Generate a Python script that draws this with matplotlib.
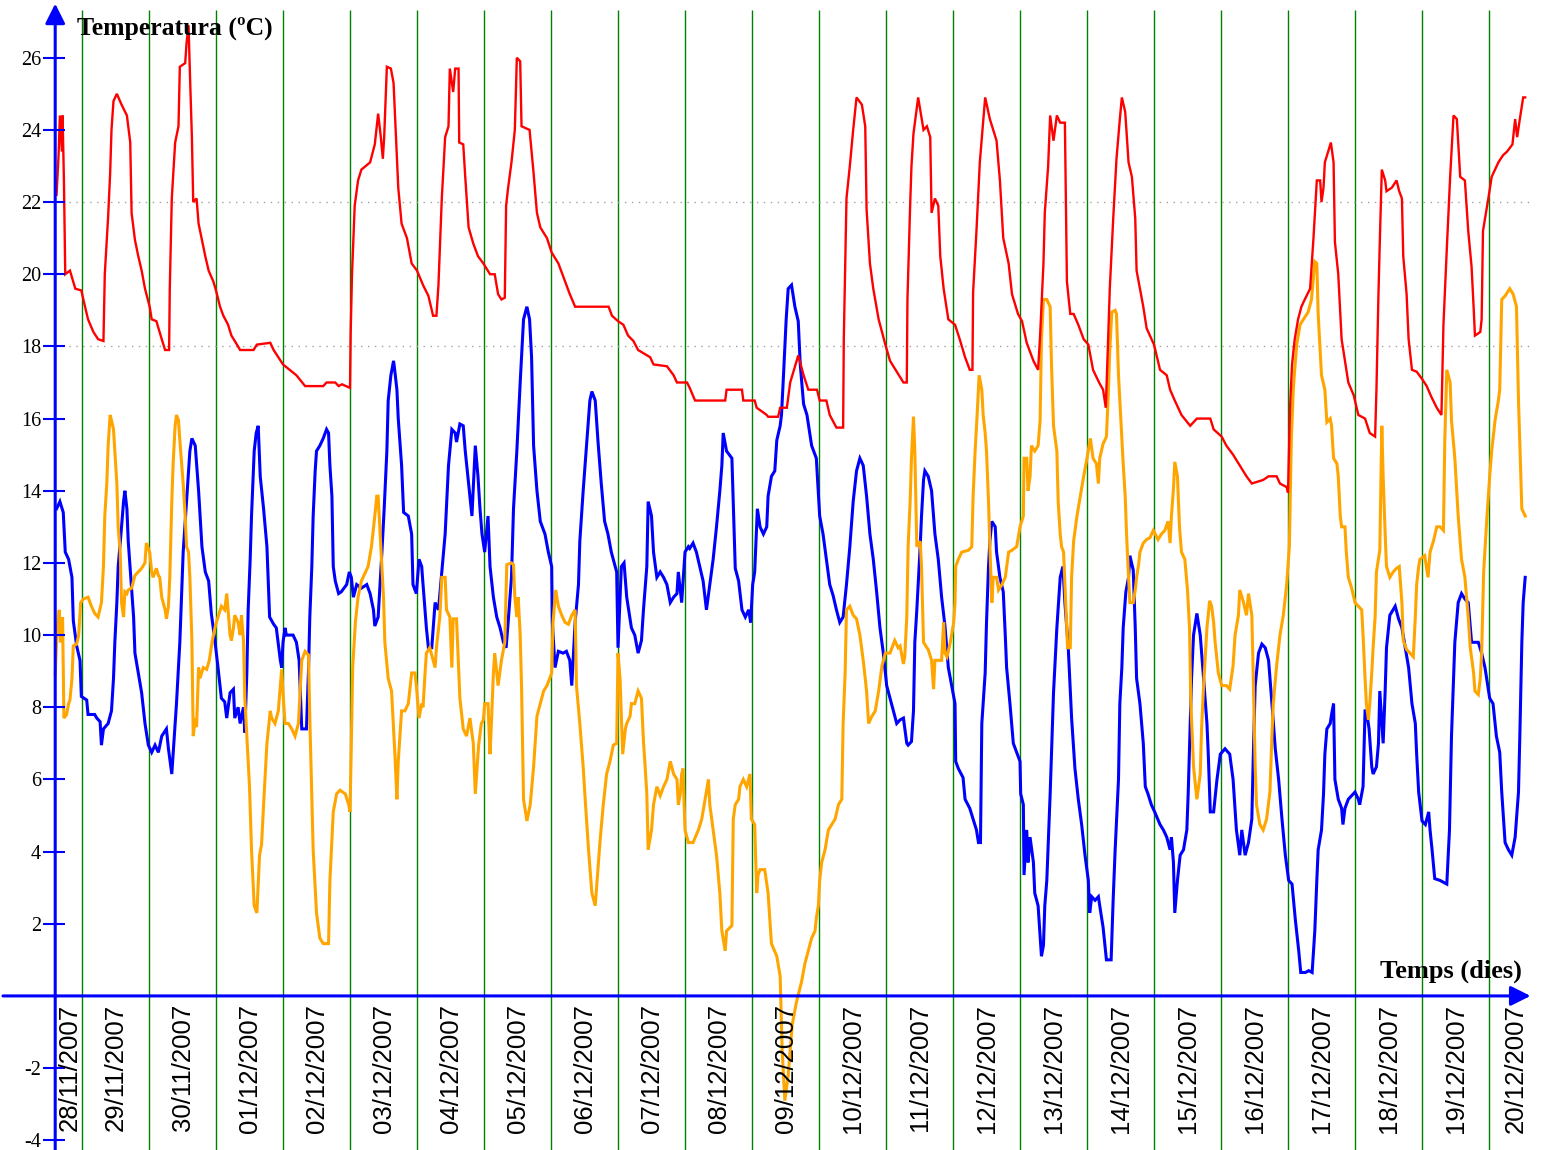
import matplotlib
matplotlib.use("Agg")
import matplotlib.pyplot as plt
import numpy as np

# time in days since 28/11/2007 00:00, temperature in ºC
red = [
    (0.62, 22.2), (0.65, 23.3), (0.67, 24.4), (0.70, 23.4), (0.71, 24.4), (0.73, 22.6), (0.75, 20.0),
    (0.82, 20.1), (0.90, 19.6), (0.99, 19.55), (1.02, 19.3), (1.09, 18.75), (1.17, 18.4), (1.24, 18.2),
    (1.32, 18.15), (1.34, 20.0), (1.39, 21.6), (1.42, 22.8), (1.44, 24.0), (1.47, 24.8), (1.52, 25.0),
    (1.59, 24.7), (1.67, 24.4), (1.72, 23.65), (1.74, 21.7), (1.79, 20.95), (1.84, 20.5), (1.89, 20.1),
    (1.94, 19.6), (2.01, 19.1), (2.04, 18.75), (2.11, 18.7), (2.19, 18.2), (2.24, 17.9), (2.30, 17.9),
    (2.31, 19.6), (2.34, 22.1), (2.39, 23.65), (2.44, 24.1), (2.46, 25.75), (2.54, 25.85), (2.56, 26.4),
    (2.59, 26.9), (2.61, 25.6), (2.64, 23.8), (2.66, 22.0), (2.71, 22.1), (2.74, 21.4), (2.79, 20.95),
    (2.84, 20.5), (2.89, 20.1), (2.96, 19.8), (3.00, 19.55), (3.06, 19.1), (3.11, 18.85), (3.18, 18.6),
    (3.23, 18.3), (3.28, 18.15), (3.36, 17.9), (3.56, 17.9), (3.61, 18.05), (3.81, 18.1), (3.86, 17.9),
    (4.00, 17.5), (4.10, 17.35), (4.20, 17.2), (4.33, 16.9), (4.60, 16.9), (4.65, 17.0), (4.78, 17.0),
    (4.83, 16.9), (4.88, 16.95), (5.00, 16.85), (5.01, 18.4), (5.03, 20.0), (5.07, 21.9), (5.12, 22.6),
    (5.17, 22.9), (5.30, 23.1), (5.37, 23.6), (5.42, 24.45), (5.46, 23.8), (5.49, 23.2), (5.51, 23.8),
    (5.55, 25.75), (5.61, 25.7), (5.65, 25.3), (5.69, 23.65), (5.72, 22.4), (5.77, 21.4), (5.85, 21.0),
    (5.92, 20.3), (6.00, 20.1), (6.09, 19.7), (6.17, 19.4), (6.24, 18.85), (6.29, 18.85), (6.32, 19.7),
    (6.37, 22.1), (6.42, 23.8), (6.47, 24.1), (6.49, 25.7), (6.54, 25.05), (6.57, 25.7), (6.62, 25.7),
    (6.63, 23.65), (6.69, 23.6), (6.72, 22.7), (6.77, 21.3), (6.84, 20.85), (6.91, 20.5), (6.99, 20.3),
    (7.09, 20.0), (7.16, 20.0), (7.21, 19.45), (7.26, 19.3), (7.31, 19.35), (7.33, 21.9), (7.36, 22.4),
    (7.41, 23.1), (7.46, 24.0), (7.49, 26.0), (7.54, 25.9), (7.56, 24.1), (7.68, 24.0), (7.74, 22.8),
    (7.79, 21.7), (7.84, 21.3), (7.94, 21.0), (8.01, 20.6), (8.11, 20.3), (8.21, 19.8), (8.28, 19.45),
    (8.36, 19.1), (8.86, 19.1), (8.91, 18.85), (9.00, 18.7), (9.08, 18.6), (9.15, 18.3), (9.23, 18.15),
    (9.30, 17.9), (9.48, 17.7), (9.53, 17.5), (9.73, 17.45), (9.83, 17.2), (9.88, 17.0), (10.03, 17.0),
    (10.07, 16.85), (10.15, 16.5), (10.60, 16.5), (10.62, 16.8), (10.85, 16.8), (10.87, 16.5), (11.04, 16.5),
    (11.07, 16.3), (11.22, 16.1), (11.24, 16.05), (11.39, 16.05), (11.42, 16.3), (11.52, 16.3), (11.57, 17.0),
    (11.69, 17.75), (11.77, 17.2), (11.84, 16.8), (11.97, 16.8), (12.01, 16.5), (12.11, 16.5), (12.16, 16.1),
    (12.26, 15.75), (12.36, 15.75), (12.37, 18.2), (12.39, 20.2), (12.41, 22.1), (12.46, 23.0), (12.51, 24.0),
    (12.56, 24.9), (12.64, 24.7), (12.69, 24.1), (12.71, 21.8), (12.76, 20.3), (12.81, 19.6), (12.89, 18.75),
    (12.99, 18.05), (13.06, 17.6), (13.16, 17.3), (13.26, 17.0), (13.31, 17.0), (13.32, 19.3), (13.36, 21.9),
    (13.38, 23.0), (13.41, 23.9), (13.48, 24.9), (13.56, 24.0), (13.61, 24.1), (13.66, 23.8), (13.68, 21.7),
    (13.73, 22.1), (13.78, 21.9), (13.81, 20.5), (13.86, 19.6), (13.93, 18.75), (14.03, 18.6), (14.10, 18.2),
    (14.18, 17.7), (14.25, 17.35), (14.29, 17.35), (14.30, 19.5), (14.35, 21.2), (14.40, 23.1), (14.48, 24.9),
    (14.55, 24.3), (14.65, 23.7), (14.70, 22.6), (14.75, 21.0), (14.83, 20.3), (14.88, 19.45), (14.97, 18.9),
    (15.03, 18.7), (15.10, 18.1), (15.20, 17.6), (15.27, 17.35), (15.30, 18.3), (15.35, 20.3), (15.37, 21.7),
    (15.42, 23.0), (15.45, 24.4), (15.50, 23.7), (15.55, 24.4), (15.60, 24.2), (15.67, 24.2), (15.70, 19.8),
    (15.75, 18.9), (15.80, 18.9), (15.87, 18.6), (15.95, 18.2), (16.02, 18.05), (16.09, 17.35), (16.18, 17.0),
    (16.24, 16.8), (16.28, 16.3), (16.31, 17.9), (16.34, 19.6), (16.39, 21.5), (16.44, 23.2), (16.49, 24.3),
    (16.52, 24.9), (16.57, 24.5), (16.62, 23.1), (16.67, 22.7), (16.72, 21.55), (16.74, 20.1), (16.79, 19.6),
    (16.84, 19.1), (16.89, 18.5), (17.00, 18.05), (17.09, 17.35), (17.19, 17.2), (17.24, 16.8), (17.31, 16.5),
    (17.41, 16.1), (17.54, 15.8), (17.64, 16.0), (17.84, 16.0), (17.89, 15.7), (18.01, 15.5), (18.08, 15.25),
    (18.18, 15.0), (18.28, 14.7), (18.38, 14.4), (18.46, 14.2), (18.63, 14.3), (18.71, 14.4), (18.83, 14.4),
    (18.88, 14.2), (18.98, 14.1), (19.00, 13.95), (19.03, 16.3), (19.06, 17.5), (19.10, 18.2), (19.15, 18.75),
    (19.20, 19.1), (19.25, 19.3), (19.33, 19.6), (19.38, 21.0), (19.43, 22.6), (19.48, 22.6), (19.50, 22.0),
    (19.53, 22.4), (19.55, 23.1), (19.60, 23.4), (19.64, 23.65), (19.68, 23.1), (19.70, 20.9), (19.75, 20.0),
    (19.80, 18.2), (19.85, 17.6), (19.90, 17.0), (19.98, 16.65), (20.05, 16.1), (20.15, 16.0), (20.22, 15.6),
    (20.30, 15.5), (20.32, 16.8), (20.35, 19.45), (20.37, 20.9), (20.40, 22.9), (20.45, 22.6), (20.47, 22.3),
    (20.55, 22.4), (20.62, 22.6), (20.66, 22.3), (20.70, 22.1), (20.72, 20.5), (20.77, 19.45), (20.80, 18.2),
    (20.85, 17.35), (20.92, 17.3), (21.00, 17.1), (21.07, 16.9), (21.14, 16.6), (21.22, 16.3), (21.29, 16.1),
    (21.32, 18.6), (21.37, 20.7), (21.42, 22.7), (21.47, 24.4), (21.52, 24.3), (21.57, 22.7), (21.64, 22.6),
    (21.69, 21.2), (21.74, 20.2), (21.77, 19.1), (21.79, 18.3), (21.87, 18.4), (21.89, 18.75), (21.91, 21.2),
    (21.99, 22.1), (22.04, 22.7), (22.14, 23.1), (22.21, 23.3), (22.27, 23.4), (22.35, 23.6), (22.39, 24.3),
    (22.42, 23.8), (22.46, 24.3), (22.51, 24.9), (22.54, 24.9),
]

blue = [
    (0.62, 13.5), (0.67, 13.7), (0.72, 13.4), (0.75, 12.3), (0.80, 12.1), (0.85, 11.6), (0.87, 10.4),
    (0.92, 9.7), (0.97, 9.3), (0.99, 8.3), (1.07, 8.2), (1.09, 7.8), (1.19, 7.8), (1.22, 7.7), (1.27, 7.6),
    (1.29, 6.95), (1.32, 7.4), (1.39, 7.55), (1.44, 7.9), (1.47, 8.8), (1.49, 9.8), (1.52, 10.9), (1.54, 11.9),
    (1.59, 13.0), (1.62, 13.7), (1.64, 14.0), (1.67, 13.5), (1.69, 12.6), (1.72, 11.8), (1.77, 10.5),
    (1.79, 9.5), (1.84, 8.95), (1.89, 8.4), (1.94, 7.55), (1.99, 6.95), (2.04, 6.75), (2.09, 6.95),
    (2.14, 6.75), (2.19, 7.2), (2.26, 7.4), (2.29, 6.85), (2.34, 6.15), (2.36, 6.7), (2.41, 8.1), (2.46, 9.8),
    (2.51, 12.3), (2.56, 13.7), (2.61, 15.1), (2.64, 15.45), (2.69, 15.25), (2.74, 14.0), (2.79, 12.45),
    (2.84, 11.75), (2.89, 11.5), (2.93, 10.6), (2.98, 9.9), (3.03, 9.1), (3.08, 8.25), (3.13, 8.15),
    (3.16, 7.7), (3.21, 8.4), (3.26, 8.5), (3.28, 7.7), (3.33, 8.0), (3.36, 7.55), (3.41, 8.0), (3.43, 7.3),
    (3.46, 8.95), (3.48, 10.7), (3.51, 12.1), (3.53, 13.3), (3.57, 15.1), (3.60, 15.6), (3.63, 15.8),
    (3.66, 14.4), (3.71, 13.5), (3.76, 12.45), (3.80, 10.5), (3.86, 10.3), (3.90, 10.2), (3.96, 9.3),
    (3.98, 9.1), (4.00, 9.8), (4.03, 10.2), (4.05, 10.0), (4.15, 10.0), (4.20, 9.8), (4.24, 9.3), (4.28, 7.4),
    (4.35, 7.4), (4.38, 9.0), (4.40, 10.5), (4.43, 11.9), (4.45, 13.3), (4.48, 14.55), (4.50, 15.1),
    (4.55, 15.25), (4.60, 15.45), (4.65, 15.7), (4.68, 15.6), (4.70, 14.7), (4.73, 13.85), (4.75, 11.9),
    (4.78, 11.5), (4.83, 11.15), (4.87, 11.2), (4.95, 11.4), (4.99, 11.75), (5.02, 11.6), (5.05, 11.05),
    (5.10, 11.4), (5.17, 11.3), (5.25, 11.4), (5.30, 11.15), (5.35, 10.7), (5.37, 10.25), (5.42, 10.5),
    (5.47, 12.1), (5.51, 13.5), (5.55, 15.1), (5.57, 16.5), (5.61, 17.2), (5.65, 17.6), (5.67, 17.3),
    (5.70, 16.8), (5.72, 16.0), (5.77, 14.7), (5.80, 13.4), (5.87, 13.3), (5.92, 12.8), (5.94, 11.4),
    (5.99, 11.15), (6.03, 12.1), (6.07, 11.9), (6.09, 11.4), (6.14, 10.2), (6.17, 9.65), (6.22, 9.65),
    (6.27, 10.9), (6.32, 10.7), (6.37, 11.75), (6.42, 12.8), (6.47, 14.7), (6.52, 15.7), (6.57, 15.6),
    (6.59, 15.35), (6.64, 15.85), (6.69, 15.8), (6.72, 15.1), (6.77, 14.2), (6.82, 13.3), (6.87, 15.25),
    (6.91, 14.4), (6.94, 13.5), (6.97, 12.8), (7.01, 12.3), (7.06, 13.3), (7.09, 11.9), (7.14, 11.05),
    (7.19, 10.5), (7.24, 10.2), (7.29, 9.8), (7.33, 9.65), (7.36, 10.35), (7.41, 11.6), (7.44, 13.5),
    (7.49, 15.1), (7.54, 17.0), (7.59, 18.75), (7.64, 19.1), (7.68, 18.75), (7.71, 17.7), (7.74, 15.25),
    (7.79, 14.0), (7.84, 13.15), (7.91, 12.8), (7.96, 12.3), (8.01, 11.9), (8.02, 10.35), (8.06, 9.1),
    (8.11, 9.55), (8.18, 9.5), (8.23, 9.55), (8.28, 9.3), (8.31, 8.6), (8.36, 10.35), (8.41, 11.4),
    (8.43, 12.6), (8.48, 14.0), (8.53, 15.25), (8.58, 16.5), (8.61, 16.75), (8.66, 16.5), (8.70, 15.4),
    (8.75, 14.2), (8.80, 13.15), (8.85, 12.8), (8.90, 12.3), (8.98, 11.75), (9.00, 9.65), (9.05, 11.9),
    (9.09, 12.0), (9.13, 11.05), (9.20, 10.2), (9.25, 10.0), (9.30, 9.5), (9.35, 9.85), (9.38, 10.7),
    (9.43, 11.9), (9.45, 13.7), (9.50, 13.3), (9.53, 12.3), (9.58, 11.6), (9.63, 11.75), (9.68, 11.6),
    (9.73, 11.4), (9.78, 10.9), (9.83, 11.05), (9.88, 11.15), (9.90, 11.75), (9.95, 10.9), (10.00, 12.3),
    (10.05, 12.45), (10.07, 12.4), (10.12, 12.55), (10.17, 12.3), (10.22, 11.9), (10.27, 11.5), (10.32, 10.7),
    (10.37, 11.4), (10.42, 12.1), (10.47, 13.0), (10.52, 14.0), (10.55, 14.7), (10.57, 15.6), (10.62, 15.1),
    (10.70, 14.9), (10.72, 13.7), (10.75, 11.85), (10.80, 11.5), (10.85, 10.7), (10.90, 10.5), (10.95, 10.7),
    (10.98, 10.35), (11.01, 11.4), (11.04, 11.75), (11.08, 13.5), (11.12, 13.0), (11.17, 12.8), (11.22, 13.0),
    (11.24, 13.85), (11.29, 14.4), (11.34, 14.55), (11.37, 15.4), (11.42, 15.8), (11.44, 16.1), (11.47, 17.2),
    (11.51, 18.75), (11.54, 19.6), (11.59, 19.7), (11.64, 19.1), (11.69, 18.7), (11.72, 17.5), (11.77, 16.4),
    (11.82, 16.1), (11.89, 15.25), (11.96, 14.9), (12.01, 13.3), (12.06, 12.8), (12.11, 12.1), (12.16, 11.4),
    (12.21, 11.1), (12.26, 10.7), (12.31, 10.35), (12.36, 10.5), (12.41, 11.4), (12.46, 12.45), (12.51, 13.7),
    (12.56, 14.55), (12.61, 14.9), (12.66, 14.7), (12.71, 13.85), (12.76, 12.8), (12.81, 12.1), (12.86, 11.2),
    (12.91, 10.2), (12.96, 9.5), (13.01, 8.6), (13.06, 8.25), (13.11, 7.9), (13.16, 7.55), (13.21, 7.65),
    (13.26, 7.7), (13.31, 7.0), (13.33, 6.95), (13.38, 7.05), (13.41, 7.9), (13.43, 9.8), (13.46, 10.7),
    (13.51, 12.45), (13.53, 13.3), (13.56, 14.3), (13.58, 14.55), (13.63, 14.4), (13.68, 14.0), (13.73, 12.8),
    (13.78, 12.1), (13.83, 11.05), (13.88, 10.25), (13.93, 9.1), (13.98, 8.6), (14.03, 8.1), (14.04, 6.5),
    (14.08, 6.3), (14.15, 6.05), (14.18, 5.45), (14.25, 5.2), (14.30, 4.9), (14.35, 4.6), (14.38, 4.25),
    (14.41, 4.25), (14.43, 7.55), (14.48, 8.95), (14.50, 10.35), (14.53, 11.9), (14.55, 12.6), (14.58, 13.15),
    (14.63, 13.0), (14.65, 12.3), (14.70, 11.6), (14.75, 11.2), (14.78, 10.0), (14.80, 9.1), (14.85, 8.1),
    (14.90, 7.0), (14.95, 6.75), (15.00, 6.5), (15.01, 5.6), (15.05, 5.3), (15.06, 3.35), (15.10, 4.6),
    (15.12, 3.7), (15.15, 4.4), (15.20, 3.7), (15.22, 2.85), (15.27, 2.5), (15.32, 1.1), (15.35, 1.4),
    (15.37, 2.5), (15.40, 3.2), (15.45, 5.6), (15.50, 8.4), (15.55, 10.2), (15.60, 11.6), (15.64, 11.9),
    (15.67, 10.9), (15.72, 9.65), (15.77, 7.7), (15.82, 6.3), (15.87, 5.45), (15.92, 4.75), (15.97, 3.9),
    (16.02, 3.2), (16.04, 2.3), (16.07, 2.75), (16.12, 2.65), (16.17, 2.75), (16.19, 2.5), (16.24, 1.9),
    (16.29, 1.0), (16.36, 1.0), (16.39, 2.65), (16.42, 4.05), (16.47, 6.0), (16.49, 8.1), (16.52, 9.1),
    (16.54, 10.2), (16.58, 11.2), (16.62, 11.6), (16.64, 12.2), (16.69, 11.8), (16.72, 10.2), (16.74, 8.8),
    (16.79, 8.1), (16.84, 7.0), (16.87, 5.8), (16.91, 5.6), (16.96, 5.3), (17.01, 5.1), (17.09, 4.75),
    (17.14, 4.6), (17.19, 4.4), (17.24, 4.05), (17.26, 4.4), (17.29, 3.7), (17.31, 2.3), (17.35, 3.2),
    (17.39, 3.9), (17.44, 4.05), (17.49, 4.6), (17.51, 5.6), (17.54, 7.55), (17.56, 8.8), (17.59, 10.0),
    (17.64, 10.6), (17.69, 10.0), (17.74, 8.8), (17.79, 7.55), (17.81, 6.7), (17.84, 5.1), (17.89, 5.1),
    (17.94, 6.0), (17.99, 6.7), (18.06, 6.85), (18.13, 6.7), (18.18, 6.0), (18.23, 4.6), (18.28, 3.9),
    (18.31, 4.6), (18.36, 3.9), (18.41, 4.25), (18.46, 4.9), (18.48, 6.5), (18.51, 8.6), (18.56, 9.5),
    (18.61, 9.75), (18.66, 9.65), (18.71, 9.3), (18.76, 8.1), (18.81, 6.85), (18.86, 6.0), (18.91, 4.9),
    (18.96, 3.9), (19.01, 3.2), (19.06, 3.1), (19.11, 2.1), (19.16, 1.25), (19.19, 0.65), (19.26, 0.65),
    (19.31, 0.7), (19.36, 0.65), (19.40, 1.8), (19.43, 3.2), (19.45, 4.05), (19.50, 4.6), (19.53, 5.6),
    (19.55, 6.7), (19.58, 7.4), (19.63, 7.55), (19.65, 7.8), (19.68, 8.1), (19.70, 6.0), (19.75, 5.45),
    (19.80, 5.2), (19.82, 4.75), (19.85, 5.2), (19.90, 5.45), (19.95, 5.55), (20.00, 5.65), (20.05, 5.45),
    (20.07, 5.3), (20.12, 5.8), (20.15, 7.9), (20.17, 7.9), (20.21, 7.4), (20.25, 6.35), (20.27, 6.15),
    (20.32, 6.35), (20.35, 7.0), (20.37, 8.45), (20.42, 7.0), (20.45, 8.45), (20.47, 9.65), (20.52, 10.55),
    (20.60, 10.8), (20.65, 10.45), (20.70, 10.2), (20.75, 9.65), (20.80, 9.1), (20.85, 8.1), (20.90, 7.55),
    (20.92, 6.7), (20.95, 5.65), (21.00, 4.85), (21.05, 4.75), (21.10, 5.1), (21.12, 4.6), (21.15, 4.05),
    (21.19, 3.25), (21.27, 3.2), (21.37, 3.1), (21.41, 4.6), (21.44, 7.2), (21.49, 9.8), (21.54, 10.9),
    (21.59, 11.15), (21.64, 11.0), (21.69, 10.9), (21.74, 9.8), (21.79, 9.8), (21.84, 9.8), (21.89, 9.5),
    (21.94, 9.1), (22.01, 8.25), (22.06, 8.1), (22.11, 7.2), (22.16, 6.75), (22.19, 5.65), (22.24, 4.25),
    (22.29, 4.05), (22.34, 3.9), (22.39, 4.4), (22.44, 5.65), (22.46, 7.2), (22.49, 9.8), (22.51, 10.9),
    (22.54, 11.6),
]

orange = [
    (0.60, 8.9), (0.63, 10.2), (0.66, 10.7), (0.68, 9.8), (0.71, 10.5), (0.73, 7.7), (0.77, 7.8), (0.80, 8.1),
    (0.82, 8.2), (0.85, 8.8), (0.87, 9.7), (0.92, 9.75), (0.95, 10.0), (0.98, 10.9), (1.02, 11.0), (1.09, 11.05),
    (1.14, 10.8), (1.19, 10.6), (1.24, 10.5), (1.29, 10.9), (1.32, 11.9), (1.34, 13.3), (1.37, 14.2),
    (1.39, 15.25), (1.42, 16.1), (1.44, 15.95), (1.47, 15.7), (1.49, 15.1), (1.52, 14.2), (1.54, 13.0),
    (1.57, 12.3), (1.59, 10.9), (1.62, 10.5), (1.64, 11.2), (1.67, 11.15), (1.69, 11.25), (1.74, 11.3),
    (1.79, 11.65), (1.84, 11.75), (1.89, 11.85), (1.94, 12.0), (1.96, 12.55), (2.01, 12.3), (2.04, 11.75),
    (2.06, 11.6), (2.11, 11.85), (2.14, 11.65), (2.16, 11.6), (2.19, 11.05), (2.24, 10.7), (2.26, 10.45),
    (2.29, 10.8), (2.31, 11.6), (2.34, 13.7), (2.36, 14.75), (2.39, 15.8), (2.41, 16.1), (2.44, 15.95),
    (2.46, 15.4), (2.51, 14.2), (2.54, 13.3), (2.56, 12.45), (2.59, 12.3), (2.61, 11.6), (2.64, 9.85),
    (2.66, 7.2), (2.69, 7.7), (2.71, 7.45), (2.74, 9.1), (2.76, 8.8), (2.81, 9.1), (2.86, 9.05), (2.90, 9.3),
    (2.94, 9.8), (2.99, 10.25), (3.03, 10.5), (3.08, 10.8), (3.13, 10.7), (3.16, 11.15), (3.18, 10.7),
    (3.21, 10.0), (3.23, 9.85), (3.26, 10.2), (3.28, 10.55), (3.33, 10.35), (3.36, 10.0), (3.38, 10.55),
    (3.41, 9.85), (3.43, 8.25), (3.46, 7.2), (3.50, 5.8), (3.53, 4.05), (3.57, 2.5), (3.61, 2.3), (3.65, 3.9),
    (3.68, 4.2), (3.71, 5.3), (3.76, 7.0), (3.81, 7.9), (3.83, 7.7), (3.88, 7.55), (3.93, 7.9), (3.98, 9.05),
    (4.00, 8.4), (4.03, 7.55), (4.08, 7.55), (4.13, 7.4), (4.18, 7.2), (4.23, 7.55), (4.25, 8.25), (4.28, 9.3),
    (4.33, 9.55), (4.38, 9.45), (4.40, 7.7), (4.45, 4.05), (4.50, 2.3), (4.55, 1.6), (4.60, 1.45), (4.68, 1.45),
    (4.70, 3.2), (4.75, 5.1), (4.80, 5.6), (4.85, 5.7), (4.93, 5.6), (4.98, 5.3), (5.00, 5.1), (5.02, 7.0),
    (5.04, 9.1), (5.08, 10.35), (5.12, 11.05), (5.17, 11.5), (5.22, 11.7), (5.27, 11.9), (5.32, 12.45),
    (5.37, 13.3), (5.40, 13.85), (5.42, 13.85), (5.46, 12.45), (5.50, 11.05), (5.52, 9.8), (5.57, 8.8),
    (5.62, 8.45), (5.67, 6.7), (5.70, 5.45), (5.72, 6.5), (5.77, 7.9), (5.82, 7.9), (5.87, 8.1), (5.92, 8.95),
    (5.97, 8.95), (5.99, 8.6), (6.03, 7.7), (6.07, 8.1), (6.09, 8.0), (6.12, 8.95), (6.14, 9.5), (6.19, 9.65),
    (6.24, 9.3), (6.27, 9.1), (6.29, 9.65), (6.34, 10.5), (6.37, 11.6), (6.42, 11.6), (6.44, 10.7), (6.49, 10.5),
    (6.52, 9.1), (6.54, 10.45), (6.59, 10.45), (6.64, 8.25), (6.69, 7.4), (6.74, 7.2), (6.79, 7.7), (6.84, 7.0),
    (6.87, 5.6), (6.92, 6.95), (6.96, 7.55), (6.99, 7.65), (7.01, 8.1), (7.06, 8.1), (7.09, 6.7), (7.11, 7.55),
    (7.14, 8.95), (7.16, 9.5), (7.21, 8.6), (7.26, 9.3), (7.31, 9.8), (7.34, 11.95), (7.41, 12.0), (7.44, 11.95),
    (7.46, 11.05), (7.49, 10.5), (7.51, 11.05), (7.54, 10.0), (7.56, 8.6), (7.59, 5.45), (7.64, 4.85),
    (7.69, 5.3), (7.74, 6.35), (7.79, 7.75), (7.84, 8.1), (7.89, 8.45), (7.94, 8.6), (8.01, 8.95), (8.03, 10.35),
    (8.07, 11.25), (8.11, 10.8), (8.16, 10.55), (8.21, 10.35), (8.26, 10.3), (8.31, 10.55), (8.36, 10.7),
    (8.38, 8.6), (8.43, 7.55), (8.48, 6.35), (8.51, 5.45), (8.56, 4.05), (8.61, 2.85), (8.66, 2.5), (8.68, 3.0),
    (8.73, 4.25), (8.78, 5.3), (8.83, 6.15), (8.88, 6.5), (8.93, 6.95), (8.98, 7.0), (9.00, 9.5), (9.03, 8.8),
    (9.07, 6.7), (9.11, 7.4), (9.13, 7.55), (9.18, 7.75), (9.20, 8.1), (9.25, 8.1), (9.30, 8.45), (9.35, 8.25),
    (9.38, 7.05), (9.40, 6.5), (9.43, 5.6), (9.45, 4.05), (9.50, 4.6), (9.53, 5.3), (9.58, 5.8), (9.63, 5.55),
    (9.68, 5.8), (9.73, 6.0), (9.78, 6.5), (9.83, 6.15), (9.88, 6.0), (9.90, 5.3), (9.93, 5.6), (9.95, 6.15),
    (9.97, 6.3), (10.00, 4.6), (10.05, 4.25), (10.12, 4.25), (10.20, 4.6), (10.25, 4.9), (10.30, 5.45),
    (10.35, 6.0), (10.37, 5.3), (10.42, 4.6), (10.47, 3.9), (10.52, 2.85), (10.55, 1.8), (10.60, 1.25),
    (10.62, 1.8), (10.70, 1.95), (10.72, 4.9), (10.75, 5.3), (10.80, 5.45), (10.82, 5.8), (10.87, 6.0),
    (10.92, 5.8), (10.97, 6.15), (10.99, 4.9), (11.04, 4.75), (11.07, 2.85), (11.09, 3.35), (11.12, 3.5),
    (11.19, 3.5), (11.24, 2.85), (11.29, 1.45), (11.37, 1.1), (11.42, 0.55), (11.45, -1.5), (11.49, -2.9),
    (11.54, -2.2), (11.60, -0.8), (11.66, -0.2), (11.74, 0.4), (11.79, 0.9), (11.84, 1.25), (11.89, 1.6),
    (11.94, 1.8), (11.96, 2.15), (11.99, 2.5), (12.01, 3.2), (12.04, 3.7), (12.09, 4.05), (12.14, 4.6),
    (12.19, 4.75), (12.24, 4.9), (12.29, 5.3), (12.34, 5.45), (12.36, 7.55), (12.39, 8.95), (12.41, 10.7),
    (12.46, 10.8), (12.51, 10.55), (12.56, 10.45), (12.61, 10.0), (12.66, 9.3), (12.71, 8.45), (12.74, 7.55),
    (12.79, 7.75), (12.84, 7.9), (12.89, 8.45), (12.94, 9.15), (12.99, 9.5), (13.06, 9.5), (13.13, 9.85),
    (13.18, 9.65), (13.21, 9.7), (13.26, 9.2), (13.28, 9.4), (13.31, 10.5), (13.33, 12.45), (13.36, 13.7),
    (13.38, 14.9), (13.41, 16.05), (13.43, 15.1), (13.46, 12.45), (13.51, 12.6), (13.53, 11.9), (13.56, 9.8),
    (13.61, 9.65), (13.63, 9.6), (13.68, 9.3), (13.71, 8.5), (13.73, 9.3), (13.83, 9.3), (13.86, 10.35),
    (13.88, 9.5), (13.91, 9.4), (13.96, 9.8), (14.01, 10.35), (14.03, 10.9), (14.04, 11.9), (14.08, 12.1),
    (14.13, 12.3), (14.23, 12.35), (14.28, 12.45), (14.30, 13.85), (14.33, 15.1), (14.36, 16.1), (14.39, 17.2),
    (14.43, 16.8), (14.45, 16.1), (14.48, 15.6), (14.50, 15.1), (14.53, 13.7), (14.55, 12.45), (14.58, 10.9),
    (14.60, 11.6), (14.65, 11.6), (14.68, 11.25), (14.73, 11.4), (14.78, 11.6), (14.83, 12.3), (14.88, 12.35),
    (14.95, 12.45), (15.00, 13.0), (15.05, 13.3), (15.06, 14.9), (15.10, 14.9), (15.12, 14.0), (15.15, 14.4),
    (15.17, 15.25), (15.22, 15.1), (15.27, 15.25), (15.30, 15.95), (15.32, 18.2), (15.35, 19.3), (15.40, 19.3),
    (15.45, 19.1), (15.47, 17.5), (15.50, 15.8), (15.55, 15.1), (15.57, 13.7), (15.60, 12.8), (15.62, 12.45),
    (15.65, 12.3), (15.69, 10.5), (15.71, 9.65), (15.75, 9.65), (15.77, 11.6), (15.80, 12.6), (15.85, 13.3),
    (15.90, 13.85), (15.95, 14.4), (16.00, 14.9), (16.05, 15.45), (16.09, 14.9), (16.14, 14.75), (16.17, 14.2),
    (16.19, 14.9), (16.24, 15.3), (16.29, 15.5), (16.32, 16.8), (16.34, 17.9), (16.37, 18.95), (16.42, 19.0),
    (16.44, 18.9), (16.47, 17.2), (16.49, 16.5), (16.52, 15.45), (16.54, 14.75), (16.57, 13.85), (16.59, 12.8),
    (16.62, 11.6), (16.64, 10.9), (16.69, 10.9), (16.72, 11.25), (16.74, 11.6), (16.77, 11.95), (16.79, 12.3),
    (16.84, 12.55), (16.89, 12.65), (16.94, 12.7), (16.99, 12.9), (17.06, 12.65), (17.11, 12.8), (17.16, 12.9),
    (17.21, 13.15), (17.24, 12.55), (17.26, 13.3), (17.29, 14.05), (17.31, 14.8), (17.35, 14.4), (17.38, 13.0),
    (17.41, 12.3), (17.46, 12.1), (17.50, 11.25), (17.53, 10.2), (17.55, 8.1), (17.59, 6.35), (17.64, 5.45),
    (17.69, 6.15), (17.71, 7.4), (17.74, 8.6), (17.79, 10.2), (17.83, 10.95), (17.86, 10.8), (17.89, 10.35),
    (17.91, 9.85), (17.96, 8.95), (18.01, 8.6), (18.08, 8.6), (18.13, 8.5), (18.18, 9.15), (18.21, 10.0),
    (18.26, 10.55), (18.28, 11.25), (18.33, 10.95), (18.38, 10.55), (18.41, 11.15), (18.46, 10.55), (18.48, 8.95),
    (18.51, 6.35), (18.53, 5.3), (18.58, 4.75), (18.63, 4.6), (18.68, 4.9), (18.73, 5.65), (18.76, 7.2),
    (18.78, 8.1), (18.83, 9.15), (18.88, 10.0), (18.93, 10.55), (18.98, 11.4), (19.02, 12.45), (19.05, 15.45),
    (19.08, 16.85), (19.10, 17.35), (19.13, 18.05), (19.18, 18.6), (19.23, 18.75), (19.30, 18.95), (19.35, 19.3),
    (19.40, 20.35), (19.43, 20.3), (19.45, 18.9), (19.48, 17.9), (19.50, 17.2), (19.55, 16.8), (19.58, 15.9),
    (19.63, 16.0), (19.65, 15.8), (19.68, 14.9), (19.73, 14.75), (19.75, 14.4), (19.78, 13.3), (19.80, 13.0),
    (19.85, 13.0), (19.87, 12.3), (19.90, 11.6), (19.95, 11.3), (20.00, 10.9), (20.05, 10.8), (20.10, 10.7),
    (20.12, 10.0), (20.15, 8.8), (20.17, 8.1), (20.20, 7.65), (20.22, 8.1), (20.25, 8.95), (20.27, 9.65),
    (20.30, 10.5), (20.32, 11.75), (20.35, 12.1), (20.37, 12.35), (20.40, 15.8), (20.42, 14.4), (20.45, 12.8),
    (20.47, 11.9), (20.52, 11.6), (20.57, 11.75), (20.62, 11.85), (20.66, 11.9), (20.70, 10.9), (20.72, 9.85),
    (20.77, 9.6), (20.82, 9.5), (20.87, 9.4), (20.90, 10.5), (20.92, 11.4), (20.95, 11.9), (20.97, 12.1),
    (21.04, 12.2), (21.09, 11.6), (21.12, 12.3), (21.17, 12.6), (21.22, 13.0), (21.27, 13.0), (21.32, 12.9),
    (21.34, 15.4), (21.37, 17.35), (21.42, 17.0), (21.44, 15.95), (21.49, 14.9), (21.54, 13.3), (21.59, 12.1),
    (21.64, 11.6), (21.69, 10.5), (21.72, 9.65), (21.77, 8.95), (21.79, 8.45), (21.84, 8.35), (21.87, 8.8),
    (21.89, 9.5), (21.92, 11.75), (21.97, 13.3), (22.01, 14.4), (22.04, 15.1), (22.09, 15.95), (22.14, 16.5),
    (22.16, 16.8), (22.19, 19.3), (22.24, 19.4), (22.31, 19.6), (22.36, 19.45), (22.41, 19.1), (22.44, 16.5),
    (22.49, 13.5), (22.54, 13.3),
]

dates = ["28/11/2007", "29/11/2007", "30/11/2007", "01/12/2007", "02/12/2007", "03/12/2007",
         "04/12/2007", "05/12/2007", "06/12/2007", "07/12/2007", "08/12/2007", "09/12/2007",
         "10/12/2007", "11/12/2007", "12/12/2007", "13/12/2007", "14/12/2007", "15/12/2007",
         "16/12/2007", "17/12/2007", "18/12/2007", "19/12/2007", "20/12/2007"]
yticks = [-4, -2, 2, 4, 6, 8, 10, 12, 14, 16, 18, 20, 22, 24, 26]
ref_lines = [18, 22]

BLUE = "#0000ff"
serif = "Liberation Serif"
sans = "Liberation Sans"

fig = plt.figure(figsize=(15.41, 11.5), dpi=100)
ax = fig.add_axes([0, 0, 1, 1])
ax.set_xlim(-0.224, 22.776)
ax.set_ylim(-4.27, 27.6)
ax.axis("off")

x_axis = 0.6     # position of the vertical axis (days)
x_end = 22.62    # end of the horizontal axis arrow

# midnight separators
ax.vlines(np.arange(1, len(dates)), -4.27, 27.33, colors="#008000", lw=1.0, zorder=1)
# dotted reference lines
ax.hlines(ref_lines, x_axis, 22.6, colors="#a0a0a0", linestyles=(0, (1, 4)), lw=1.0, zorder=1)

for series, color, lw in ((blue, BLUE, 2.2), (orange, "#ffa500", 2.2), (red, "#ff0000", 1.7)):
    t, v = np.array(series).T
    ax.plot(t, v, color=color, lw=lw, solid_joinstyle="miter", zorder=3)

# axes with arrows
arrow = dict(arrowstyle="-|>,head_length=0.6,head_width=0.3", color=BLUE, lw=2.2,
             shrinkA=0, shrinkB=0, mutation_scale=20)
ax.annotate("", xy=(x_axis, 27.5), xytext=(x_axis, -4.27), arrowprops=arrow, zorder=5)
ax.annotate("", xy=(x_end, 0), xytext=(-0.18, 0), arrowprops=arrow, zorder=5)

# y ticks and labels
ax.hlines(yticks, 0.42, 0.75, colors=BLUE, lw=1.5, zorder=5)
for v in yticks:
    ax.text(0.39, v, str(v), ha="right", va="center_baseline", fontsize=14.5, family=serif)

# date labels, one per day
pos = np.arange(len(dates)) + 0.5
pos[0] = 0.81
pos[-1] = 22.4
for p, d in zip(pos, dates):
    ax.text(p, -0.22, d, rotation=90, ha="center", va="top", fontsize=18.5, family=sans, zorder=6)

ax.text(0.925, 26.63, "Temperatura (ºC)", fontsize=18.5, family=serif, weight="bold", va="baseline", zorder=6)
ax.text(20.37, 0.52, "Temps (dies)", fontsize=19, family=serif, weight="bold", va="baseline", zorder=6)

fig.savefig("out.png", dpi=100)
